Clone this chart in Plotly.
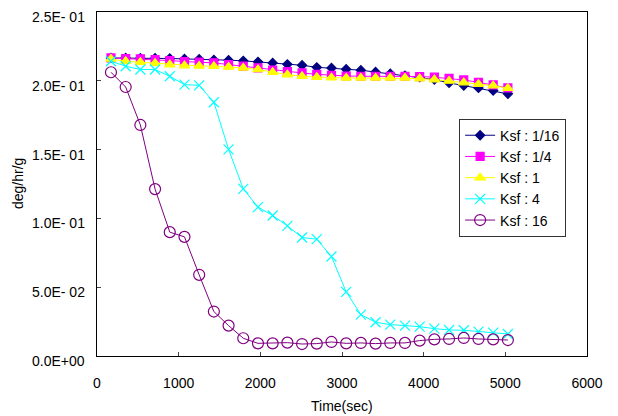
import plotly.graph_objects as go

time_sec = [171 + 180 * i for i in range(28)]

ksf_1_16 = [0.2166, 0.2166, 0.2164, 0.2164, 0.2162, 0.2159, 0.2157, 0.2152, 0.2150, 0.2145,
            0.2138, 0.2130, 0.2120, 0.2113, 0.2098, 0.2093, 0.2084, 0.2077, 0.2064, 0.2052,
            0.2038, 0.2026, 0.2009, 0.1985, 0.1965, 0.1948, 0.1929, 0.1905]
ksf_1_4 = [0.2166, 0.2162, 0.2159, 0.2154, 0.2147, 0.2140, 0.2135, 0.2130, 0.2118, 0.2106,
           0.2094, 0.2077, 0.2067, 0.2057, 0.2047, 0.2040, 0.2035, 0.2033, 0.2033, 0.2033,
           0.2033, 0.2031, 0.2026, 0.2018, 0.2006, 0.1989, 0.1970, 0.1948]
ksf_1 = [0.2159, 0.2142, 0.2135, 0.2128, 0.2118, 0.2111, 0.2108, 0.2106, 0.2101, 0.2094,
         0.2082, 0.2062, 0.2045, 0.2033, 0.2026, 0.2023, 0.2021, 0.2021, 0.2021, 0.2021,
         0.2021, 0.2016, 0.2009, 0.1999, 0.1987, 0.1975, 0.1965, 0.1946]
ksf_4 = [0.2142, 0.2106, 0.2082, 0.2082, 0.2033, 0.1972, 0.1967, 0.1844, 0.1502, 0.1215,
         0.1082, 0.1021, 0.0946, 0.0861, 0.0849, 0.0723, 0.0466, 0.0301, 0.0245, 0.0228,
         0.0221, 0.0213, 0.0199, 0.0189, 0.0187, 0.0177, 0.0170, 0.0160]
ksf_16 = [0.2062, 0.1955, 0.1679, 0.1213, 0.0900, 0.0866, 0.0590, 0.0323, 0.0221, 0.0129,
          0.0092, 0.0092, 0.0097, 0.0087, 0.0090, 0.0102, 0.0092, 0.0095, 0.0090, 0.0095,
          0.0095, 0.0112, 0.0121, 0.0124, 0.0131, 0.0124, 0.0121, 0.0116]

y_tickvals = [0, 0.05, 0.10, 0.15, 0.20, 0.25]
y_ticktext = ["0.0E+00", "5.0E- 02", "1.0E- 01", "1.5E- 01", "2.0E- 01", "2.5E- 01"]
x_tickvals = [0, 1000, 2000, 3000, 4000, 5000, 6000]

series = [
    ("Ksf : 1/16", ksf_1_16, "#000080", "diamond", 7),
    ("Ksf : 1/4", ksf_1_4, "#FF00FF", "square", 8),
    ("Ksf : 1", ksf_1, "#FFFF00", "triangle-up", 9),
    ("Ksf : 4", ksf_4, "#00FFFF", "x-thin", 10),
    ("Ksf : 16", ksf_16, "#800080", "circle-open", 11),
]

fig = go.Figure()
for i, (name, vals, color, sym, size) in enumerate(series):
    fig.add_trace(go.Scatter(
        x=time_sec, y=vals, name=name, mode="lines+markers",
        legendgroup="g%d" % i,
        line=dict(color=color, width=1),
        marker=dict(symbol=sym, size=size, color=color,
                    line=dict(color=color, width=1.2)),
    ))

# y tick labels as annotations (sit slightly below their tick, as in the reference)
for v, t in zip(y_tickvals, y_ticktext):
    fig.add_annotation(x=0, xref="paper", y=v, yref="y", text=t, showarrow=False,
                       xanchor="right", yanchor="middle", xshift=-10, yshift=-5,
                       font=dict(size=14))
fig.add_annotation(x=0, xref="paper", y=0.5, yref="paper", text="deg/hr/g",
                   showarrow=False, textangle=-90, xanchor="center", yanchor="middle",
                   xshift=-79, font=dict(size=14))
fig.add_annotation(x=0.5, xref="paper", y=0, yref="paper", text="Time(sec)",
                   showarrow=False, xanchor="center", yanchor="middle",
                   yshift=-50, font=dict(size=14))

fig.update_layout(
    width=618, height=416,
    margin=dict(l=97, r=31, t=12, b=60, autoexpand=False),
    paper_bgcolor="white", plot_bgcolor="white",
    font=dict(family="Liberation Sans, Arial, sans-serif", size=14, color="black"),
    showlegend=True,
    legend=dict(x=0.739, y=0.69, xanchor="left", yanchor="top",
                bordercolor="#333333", borderwidth=1, bgcolor="white",
                font=dict(size=14), itemwidth=30, tracegroupgap=0),
    xaxis=dict(range=[0, 6000], tickvals=x_tickvals, ticks="inside", ticklen=4,
               ticklabelstandoff=14, automargin=False,
               showgrid=False, zeroline=False, showline=True, linecolor="black",
               linewidth=1, mirror=True),
    yaxis=dict(range=[0, 0.25], tickvals=y_tickvals, ticks="inside", ticklen=4,
               showticklabels=False, automargin=False,
               showgrid=False, zeroline=False, showline=True, linecolor="black",
               linewidth=1, mirror=True),
)

fig.write_html("out.html")
